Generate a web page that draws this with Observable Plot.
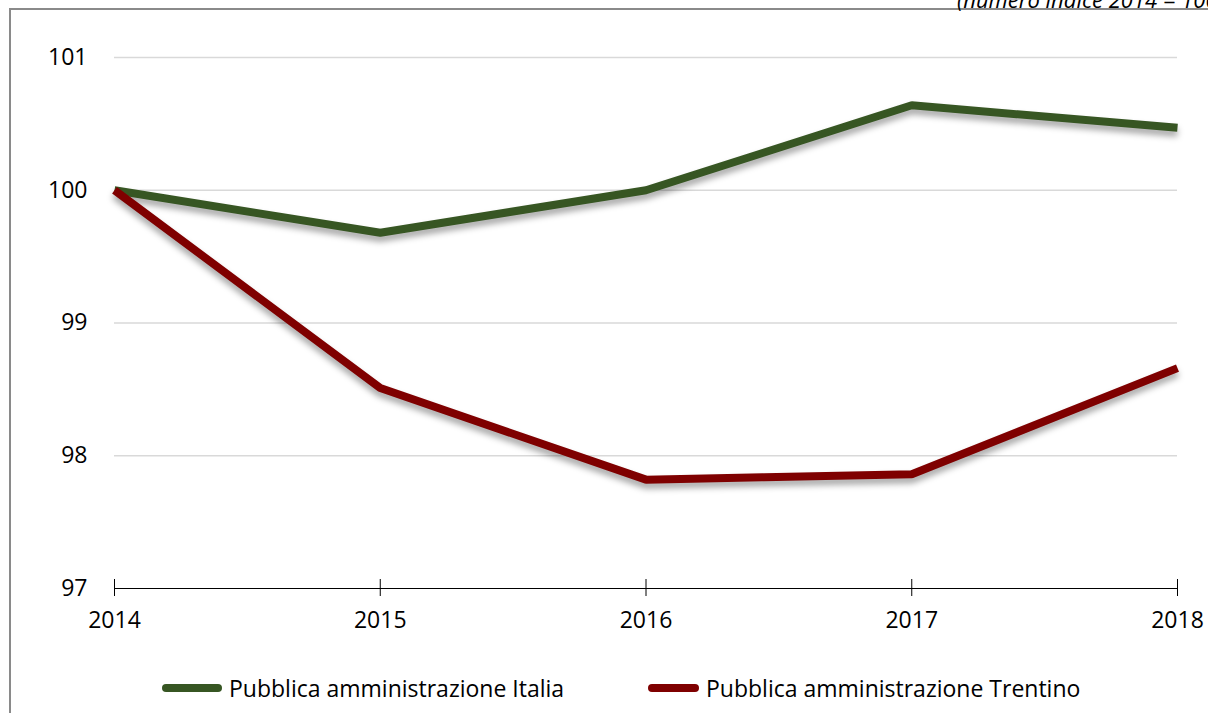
<!DOCTYPE html>
<html>
<head>
<meta charset="utf-8">
<script src="https://cdn.jsdelivr.net/npm/d3@7"></script>
<script src="https://cdn.jsdelivr.net/npm/@observablehq/plot@0.6"></script>
<style>
  html, body { margin: 0; padding: 0; background: #fff; overflow: hidden; }
  body { width: 1208px; height: 713px; position: relative; font-family: "Open Sans", Lato, sans-serif; }
  #frame { position: absolute; left: 9px; top: 8px; width: 1300px; height: 800px; border-left: 2px solid #8a8a8a; border-top: 2px solid #8a8a8a; }
  #subtitle { position: absolute; left: 957px; top: -16px; font-size: 22px; font-style: italic; color: #000; white-space: nowrap; }
  #chart { position: absolute; left: 0; top: 0; }
  #legend { position: absolute; top: 672px; left: 0; width: 1208px; height: 32px; font-size: 23px; color: #000; }
  .item { position: absolute; display: flex; align-items: center; white-space: nowrap; }
  .sw { height: 8px; border-radius: 4px; margin-right: 7px; }
</style>
</head>
<body>
<div id="frame"></div>
<div id="subtitle">(numero indice 2014 = 100)</div>
<div id="chart"></div>
<div id="legend"></div>
<script>
const years = [2014, 2015, 2016, 2017, 2018];
const italia = [100, 99.68, 100.0, 100.64, 100.47];
const trentino = [100, 98.51, 97.82, 97.86, 98.66];
const seriesNames = ["Pubblica amministrazione Italia", "Pubblica amministrazione Trentino"];
const seriesColors = ["#375623", "#7f0000"];
const yTicks = [97, 98, 99, 100, 101];

const data = [];
years.forEach((yr, i) => {
  data.push({year: yr, value: italia[i], series: seriesNames[0]});
  data.push({year: yr, value: trentino[i], series: seriesNames[1]});
});

const chart = Plot.plot({
  width: 1208,
  height: 645,
  marginLeft: 114,
  marginRight: 31,
  marginTop: 57,
  marginBottom: 57,
  style: {fontFamily: "'Open Sans', Lato, sans-serif", fontSize: "23px", color: "#000", background: "transparent"},
  x: {domain: [2014, 2018], ticks: years, tickFormat: "d", label: null},
  y: {domain: [97, 101], ticks: yTicks, tickFormat: "d", label: null},
  color: {domain: seriesNames, range: seriesColors},
  marks: [
    Plot.gridY(yTicks.filter(d => d !== 97), {stroke: "#d9d9d9", strokeOpacity: 1, strokeWidth: 1.3}),
    Plot.ruleY([97], {stroke: "#000", strokeWidth: 1}),
    Plot.axisY({ticks: yTicks, tickSize: 0, tickPadding: 27, tickFormat: "d", label: null, fontSize: 23}),
    Plot.axisX({ticks: years, tickSize: 8, tickPadding: 15, tickFormat: "d", label: null, fontSize: 23, stroke: "#000"}),
    Plot.axisX({ticks: years, tickSize: -9, text: null, label: null, stroke: "#000"}),
    Plot.line(data, {x: "year", y: "value", z: "series", stroke: "series", strokeWidth: 8, strokeLinejoin: "miter", strokeLinecap: "butt"})
  ]
});
chart.querySelectorAll('g[aria-label="line"]').forEach(g => {
  g.style.filter = "drop-shadow(0px 5px 3px rgba(0,0,0,0.35))";
});
document.getElementById("chart").appendChild(chart);

const legend = document.getElementById("legend");
const lefts = [162, 648];
const swatchWidths = [60, 51];
seriesNames.forEach((n, i) => {
  const it = document.createElement("div");
  it.className = "item";
  it.style.left = lefts[i] + "px";
  const sw = document.createElement("div");
  sw.className = "sw";
  sw.style.width = swatchWidths[i] + "px";
  sw.style.background = seriesColors[i];
  const t = document.createElement("span");
  t.textContent = n;
  it.appendChild(sw); it.appendChild(t);
  legend.appendChild(it);
});
</script>
</body>
</html>
